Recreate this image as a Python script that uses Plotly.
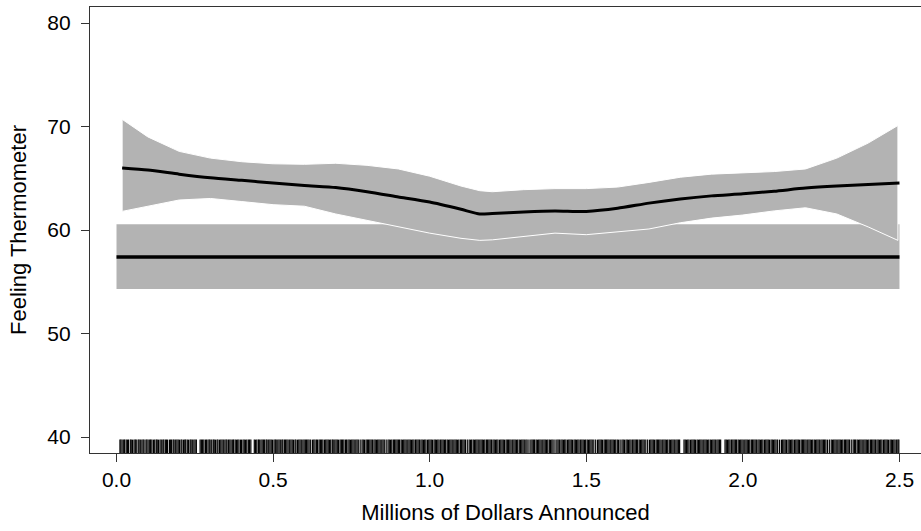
import plotly.graph_objects as go

# Constant-effect estimate with its confidence interval (horizontal band)
flat_x = [0.0, 2.5]
flat_est = 57.4
flat_lo = 54.3
flat_hi = 60.55

# Smoothed fit of feeling thermometer vs. dollars announced, with its CI
fit_x = [0.018, 0.1, 0.2, 0.3, 0.4, 0.5, 0.6, 0.7, 0.8, 0.9, 1.0, 1.1, 1.16, 1.2,
         1.3, 1.4, 1.5, 1.6, 1.7, 1.8, 1.9, 2.0, 2.1, 2.2, 2.3, 2.4, 2.495]
fit_y = [66.0, 65.8, 65.4, 65.05, 64.8, 64.55, 64.3, 64.1, 63.7, 63.2, 62.7, 62.0, 61.55, 61.6,
         61.75, 61.85, 61.8, 62.1, 62.6, 63.0, 63.3, 63.5, 63.75, 64.05, 64.25, 64.4, 64.55]
fit_hi = [70.7, 69.0, 67.6, 66.95, 66.6, 66.4, 66.35, 66.45, 66.25, 65.9, 65.2, 64.25, 63.8, 63.7,
          63.9, 64.0, 64.0, 64.15, 64.6, 65.1, 65.4, 65.5, 65.65, 65.9, 66.95, 68.4, 70.1]
fit_lo = [61.8, 62.3, 62.9, 63.05, 62.75, 62.45, 62.3, 61.55, 60.9, 60.3, 59.7, 59.2, 59.0, 59.05,
          59.35, 59.7, 59.55, 59.8, 60.1, 60.7, 61.15, 61.45, 61.85, 62.15, 61.55, 60.3, 59.0]

# Observed announcement amounts (thousands of dollars) shown as a rug
rug_thousands = [
    11, 14, 18, 23, 26, 31, 35, 38, 44, 47, 51, 56, 60, 63, 69, 72, 76, 81, 85, 88, 94, 97,
    101, 106, 109, 113, 118, 122, 127, 130, 134, 139, 143, 148, 151, 156, 160, 163, 169, 172,
    176, 181, 184, 189, 193, 197, 201, 206, 209, 214, 218, 221, 226, 230, 235, 238, 242, 247,
    251, 255, 267, 271, 275, 279, 284, 287, 292, 296, 299, 304, 309, 312, 316, 321, 324, 329,
    333, 337, 341, 346, 350, 353, 358, 362, 366, 371, 374, 379, 383, 387, 391, 396, 399, 404,
    408, 412, 416, 421, 425, 429, 440, 444, 448, 453, 456, 461, 465, 469, 473, 478, 481, 486,
    490, 494, 498, 503, 507, 510, 515, 519, 523, 528, 531, 536, 540, 544, 548, 553, 557, 561,
    565, 570, 573, 578, 582, 586, 590, 595, 599, 603, 607, 611, 615, 620, 626, 630, 634, 639,
    642, 647, 651, 655, 659, 664, 668, 672, 676, 680, 684, 689, 692, 697, 701, 705, 709, 714,
    718, 722, 726, 731, 734, 739, 743, 747, 751, 755, 759, 764, 768, 772, 778, 784, 788, 792,
    797, 801, 805, 809, 813, 817, 822, 826, 830, 834, 838, 842, 847, 851, 855, 861, 867, 871,
    875, 879, 884, 888, 892, 896, 900, 904, 909, 913, 917, 921, 925, 930, 934, 938, 942, 946,
    950, 955, 959, 963, 967, 972, 976, 980, 984, 988, 993, 997, 1001, 1005, 1009, 1014, 1018,
    1022, 1026, 1030, 1035, 1039, 1043, 1047, 1051, 1056, 1060, 1064, 1068, 1072, 1077, 1081,
    1085, 1089, 1093, 1098, 1102, 1106, 1110, 1114, 1120, 1126, 1130, 1134, 1139, 1143, 1147,
    1151, 1155, 1160, 1164, 1168, 1172, 1176, 1181, 1185, 1189, 1193, 1197, 1202, 1206, 1210,
    1214, 1218, 1223, 1227, 1231, 1235, 1239, 1244, 1248, 1252, 1256, 1260, 1265, 1269, 1273,
    1277, 1281, 1286, 1290, 1294, 1298, 1302, 1307, 1311, 1317, 1323, 1327, 1331, 1335, 1340,
    1344, 1348, 1352, 1356, 1361, 1365, 1369, 1373, 1377, 1382, 1386, 1390, 1394, 1400, 1406,
    1410, 1414, 1419, 1423, 1427, 1431, 1435, 1440, 1444, 1448, 1452, 1456, 1461, 1465, 1469,
    1473, 1477, 1482, 1486, 1490, 1494, 1498, 1503, 1507, 1511, 1515, 1519, 1524, 1530, 1536,
    1540, 1544, 1548, 1552, 1557, 1561, 1565, 1569, 1573, 1578, 1582, 1586, 1590, 1594, 1599,
    1603, 1608, 1614, 1618, 1622, 1627, 1631, 1635, 1639, 1643, 1648, 1652, 1656, 1660, 1664,
    1669, 1673, 1677, 1681, 1685, 1690, 1696, 1702, 1706, 1710, 1714, 1718, 1723, 1727, 1731,
    1735, 1739, 1744, 1748, 1752, 1756, 1760, 1765, 1769, 1773, 1777, 1781, 1786, 1790, 1794,
    1798, 1812, 1816, 1820, 1824, 1828, 1833, 1837, 1841, 1845, 1849, 1854, 1858, 1862, 1866,
    1870, 1875, 1879, 1883, 1887, 1891, 1896, 1900, 1904, 1908, 1912, 1917, 1921, 1925, 1929,
    1943, 1947, 1951, 1955, 1959, 1964, 1968, 1972, 1976, 1980, 1985, 1989, 1993, 1997, 2001,
    2006, 2010, 2014, 2018, 2022, 2027, 2031, 2035, 2039, 2043, 2048, 2052, 2056, 2060, 2064,
    2069, 2073, 2077, 2081, 2085, 2090, 2094, 2098, 2102, 2106, 2111, 2117, 2123, 2127, 2131,
    2135, 2139, 2144, 2148, 2152, 2156, 2160, 2165, 2169, 2173, 2177, 2181, 2186, 2190, 2194,
    2198, 2202, 2207, 2211, 2215, 2219, 2223, 2228, 2232, 2236, 2240, 2244, 2249, 2253, 2257,
    2261, 2265, 2270, 2276, 2282, 2286, 2290, 2294, 2298, 2303, 2307, 2311, 2315, 2319, 2324,
    2328, 2332, 2336, 2340, 2346, 2352, 2356, 2360, 2365, 2369, 2373, 2377, 2381, 2386, 2390,
    2394, 2398, 2402, 2407, 2411, 2415, 2419, 2423, 2428, 2432, 2436, 2440, 2444, 2449, 2453,
    2457, 2461, 2465, 2470, 2474, 2478, 2482, 2486, 2491, 2495, 2498,
]

x_ticks = [0.0, 0.5, 1.0, 1.5, 2.0, 2.5]
x_tick_text = ["0.0", "0.5", "1.0", "1.5", "2.0", "2.5"]
y_ticks = [40, 50, 60, 70, 80]

X_RANGE = [-0.0846, 2.5687]
Y_RANGE = [38.454, 81.55]
GRAY = "#B3B3B3"
FONT = "Liberation Sans, Arial, Helvetica, sans-serif"

fig = go.Figure()

# Horizontal CI band for the constant estimate
fig.add_trace(go.Scatter(
    x=[flat_x[0], flat_x[1], flat_x[1], flat_x[0], flat_x[0]],
    y=[flat_lo, flat_lo, flat_hi, flat_hi, flat_lo],
    fill="toself", fillcolor=GRAY, mode="lines", line=dict(width=0),
    hoverinfo="skip", showlegend=False,
))

# CI band around the smoothed fit, outlined in white
fig.add_trace(go.Scatter(
    x=fit_x + fit_x[::-1] + [fit_x[0]],
    y=fit_hi + fit_lo[::-1] + [fit_hi[0]],
    fill="toself", fillcolor=GRAY, mode="lines",
    line=dict(color="white", width=1),
    hoverinfo="skip", showlegend=False,
))

# Constant estimate line
fig.add_trace(go.Scatter(
    x=flat_x, y=[flat_est, flat_est], mode="lines",
    line=dict(color="black", width=3.5), hoverinfo="skip", showlegend=False,
))

# Smoothed fit line
fig.add_trace(go.Scatter(
    x=fit_x[:-1] + [2.5], y=fit_y, mode="lines",
    line=dict(color="black", width=3, shape="spline", smoothing=0.6),
    hoverinfo="skip", showlegend=False,
))

# Rug of observed values along the bottom axis
rug_top = Y_RANGE[0] + 0.03 * (Y_RANGE[1] - Y_RANGE[0])
rx, ry = [], []
for v in rug_thousands:
    xv = v / 1000.0
    rx += [xv, xv, None]
    ry += [Y_RANGE[0], rug_top, None]
fig.add_trace(go.Scatter(
    x=rx, y=ry, mode="lines", line=dict(color="black", width=1.2),
    hoverinfo="skip", showlegend=False,
))

fig.update_layout(
    width=921, height=531,
    margin=dict(l=90, r=0, t=7, b=78, autoexpand=False),
    paper_bgcolor="white", plot_bgcolor="white",
    font=dict(family=FONT, size=21, color="black"),
    xaxis=dict(
        range=X_RANGE, tickvals=x_ticks, ticktext=x_tick_text,
        ticks="outside", ticklen=8, tickwidth=1, tickcolor="#333",
        showline=True, linecolor="#333", linewidth=1.3, mirror=True,
        showgrid=False, zeroline=False,
        tickfont=dict(size=21),
        title=dict(text="Millions of Dollars Announced", font=dict(size=22), standoff=14),
    ),
    yaxis=dict(
        range=Y_RANGE, tickvals=y_ticks,
        ticks="outside", ticklen=8, tickwidth=1, tickcolor="#333",
        showline=True, linecolor="#333", linewidth=1.3, mirror=False,
        showgrid=False, zeroline=False,
        tickfont=dict(size=21), ticklabelstandoff=6,
        title=dict(text="Feeling Thermometer", font=dict(size=22), standoff=14),
    ),
)

fig.write_html("out.html")
